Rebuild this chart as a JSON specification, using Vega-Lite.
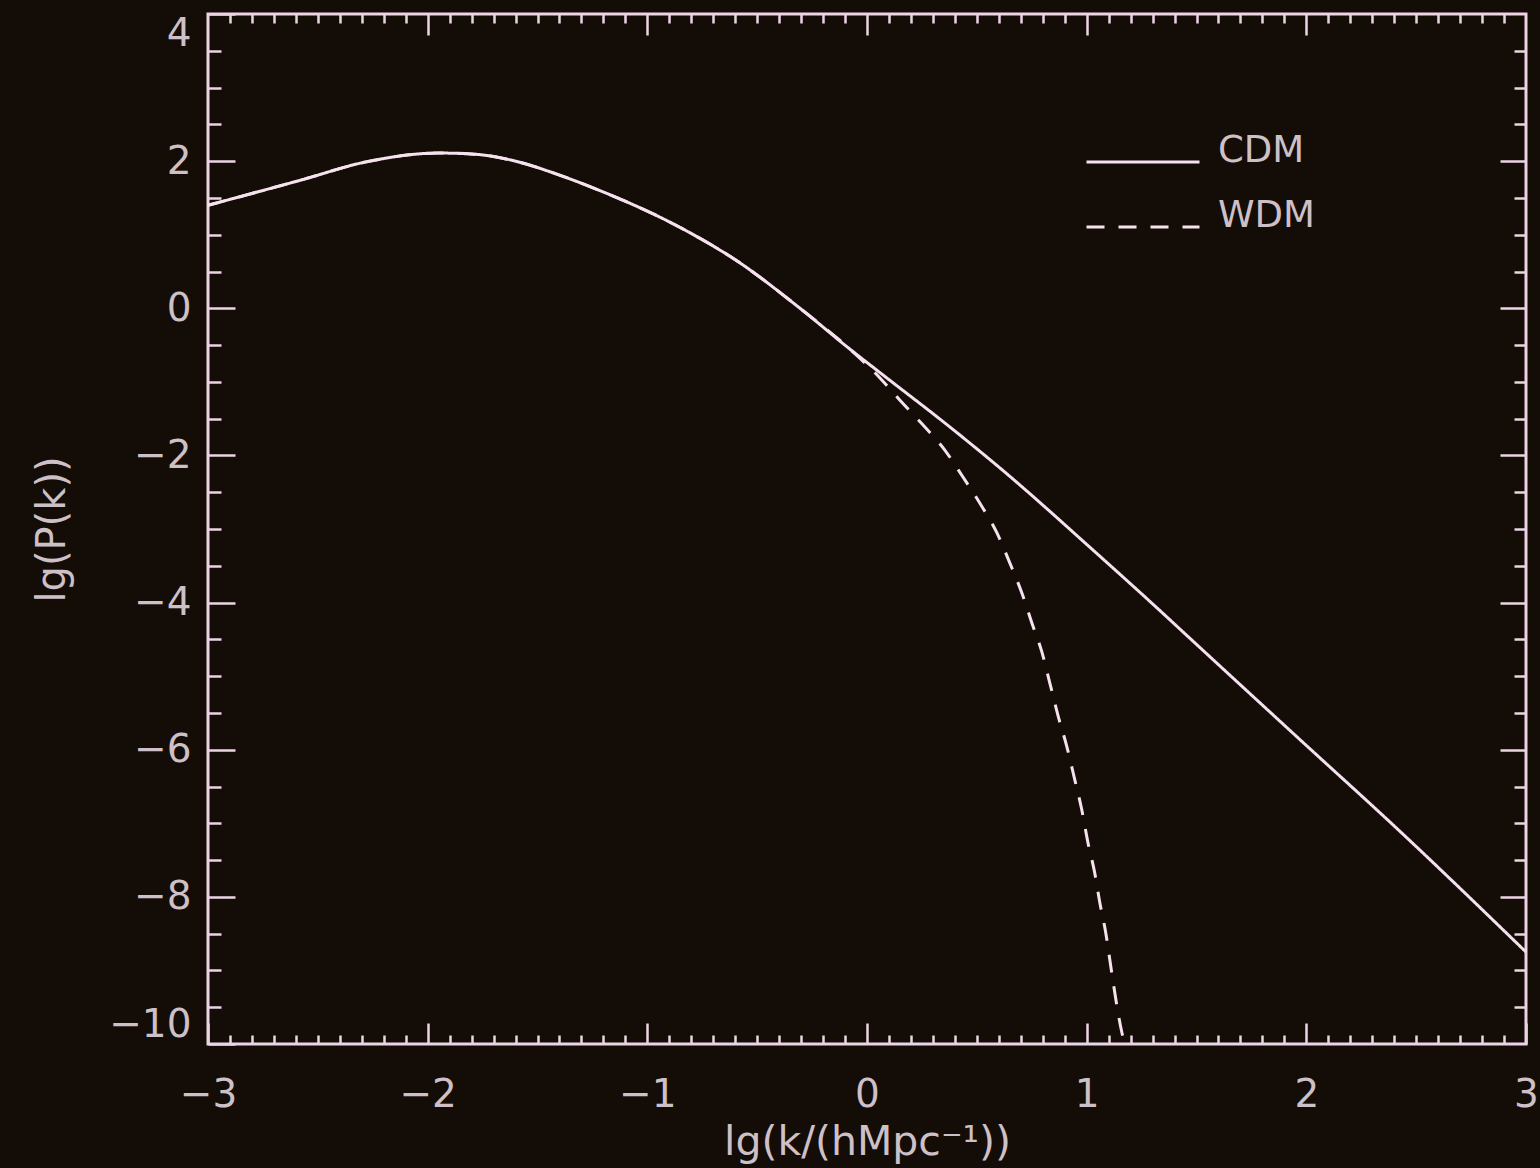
{
  "$schema": "https://vega.github.io/schema/vega-lite/v6.json",
  "width": 1318,
  "height": 1030,
  "autosize": {"type": "none"},
  "padding": {"left": 208, "top": 14, "right": 14, "bottom": 124},
  "background": "#140c06",
  "config": {
    "view": {"stroke": "#ecd4e4", "strokeWidth": 3, "fill": "#140c06"},
    "axis": {
      "domain": false,
      "grid": false,
      "labelFont": "DejaVu Sans",
      "titleFont": "DejaVu Sans",
      "labelColor": "#cdc0c6",
      "titleColor": "#cdc0c6",
      "tickColor": "#ecd4e4",
      "tickWidth": 2.5,
      "labelFontSize": 39,
      "titleFontSize": 40,
      "titleFontWeight": "normal"
    },
    "legend": {
      "labelFont": "DejaVu Sans",
      "labelColor": "#cdc0c6",
      "labelFontSize": 37
    }
  },
  "data": {
    "values": [
      {"model": "CDM", "x": -3.0, "y": 1.40},
      {"model": "CDM", "x": -2.58, "y": 1.74},
      {"model": "CDM", "x": -2.28, "y": 1.99},
      {"model": "CDM", "x": -1.95, "y": 2.11},
      {"model": "CDM", "x": -1.79, "y": 2.095},
      {"model": "CDM", "x": -1.6, "y": 2.0},
      {"model": "CDM", "x": -1.4, "y": 1.81},
      {"model": "CDM", "x": -1.2, "y": 1.58},
      {"model": "CDM", "x": -0.91, "y": 1.19},
      {"model": "CDM", "x": -0.76, "y": 0.95},
      {"model": "CDM", "x": -0.61, "y": 0.68},
      {"model": "CDM", "x": -0.305, "y": 0.0},
      {"model": "CDM", "x": -0.08, "y": -0.55},
      {"model": "CDM", "x": 0.07, "y": -0.90},
      {"model": "CDM", "x": 0.38, "y": -1.62},
      {"model": "CDM", "x": 0.605, "y": -2.17},
      {"model": "CDM", "x": 1.06, "y": -3.37},
      {"model": "CDM", "x": 1.29, "y": -3.99},
      {"model": "CDM", "x": 1.515, "y": -4.61},
      {"model": "CDM", "x": 1.97, "y": -5.86},
      {"model": "CDM", "x": 2.43, "y": -7.12},
      {"model": "CDM", "x": 3.0, "y": -8.75},
      {"model": "WDM", "x": -3.0, "y": 1.40},
      {"model": "WDM", "x": -2.58, "y": 1.74},
      {"model": "WDM", "x": -2.28, "y": 1.99},
      {"model": "WDM", "x": -1.95, "y": 2.11},
      {"model": "WDM", "x": -1.79, "y": 2.095},
      {"model": "WDM", "x": -1.6, "y": 2.0},
      {"model": "WDM", "x": -1.4, "y": 1.81},
      {"model": "WDM", "x": -1.2, "y": 1.58},
      {"model": "WDM", "x": -0.91, "y": 1.19},
      {"model": "WDM", "x": -0.76, "y": 0.95},
      {"model": "WDM", "x": -0.61, "y": 0.68},
      {"model": "WDM", "x": -0.305, "y": 0.0},
      {"model": "WDM", "x": -0.08, "y": -0.55},
      {"model": "WDM", "x": 0.06, "y": -0.95},
      {"model": "WDM", "x": 0.15, "y": -1.25},
      {"model": "WDM", "x": 0.25, "y": -1.57},
      {"model": "WDM", "x": 0.355, "y": -1.93},
      {"model": "WDM", "x": 0.436, "y": -2.29},
      {"model": "WDM", "x": 0.514, "y": -2.65},
      {"model": "WDM", "x": 0.591, "y": -3.05},
      {"model": "WDM", "x": 0.65, "y": -3.46},
      {"model": "WDM", "x": 0.705, "y": -3.87},
      {"model": "WDM", "x": 0.751, "y": -4.28},
      {"model": "WDM", "x": 0.796, "y": -4.67},
      {"model": "WDM", "x": 0.832, "y": -5.09},
      {"model": "WDM", "x": 0.869, "y": -5.53},
      {"model": "WDM", "x": 0.91, "y": -5.96},
      {"model": "WDM", "x": 0.946, "y": -6.41},
      {"model": "WDM", "x": 0.978, "y": -6.82},
      {"model": "WDM", "x": 1.005, "y": -7.25},
      {"model": "WDM", "x": 1.037, "y": -7.68},
      {"model": "WDM", "x": 1.06, "y": -8.08},
      {"model": "WDM", "x": 1.087, "y": -8.49},
      {"model": "WDM", "x": 1.115, "y": -9.05},
      {"model": "WDM", "x": 1.137, "y": -9.47},
      {"model": "WDM", "x": 1.16, "y": -9.84},
      {"model": "WDM", "x": 1.174, "y": -10.0}
    ]
  },
  "resolve": {"axis": {"x": "independent", "y": "independent"}},
  "layer": [
    {
      "mark": {"type": "line", "color": "#f6e2ef", "strokeWidth": 3, "interpolate": "monotone"},
      "encoding": {
        "x": {"field": "x", "type": "quantitative",
          "scale": {"domain": [-3, 3], "nice": false, "zero": false},
          "axis": {"orient": "bottom", "values": [-3, -2, -1, 0, 1, 2, 3], "tickSize": -21, "labelPadding": 52, "labelFlush": false, "title": "lg(k/(hMpc⁻¹))", "titlePadding": 8, "titleFontSize": 41, "format": "d"}},
        "y": {"field": "y", "type": "quantitative",
          "scale": {"domain": [-10, 4], "nice": false, "zero": false},
          "axis": {"orient": "left", "values": [-10, -8, -6, -4, -2, 0, 2, 4], "tickSize": -27, "labelPadding": 44, "labelFlush": true, "labelFlushOffset": 0, "title": "lg(P(k))", "titlePadding": 36, "format": "d"}},
        "strokeDash": {"field": "model", "type": "nominal",
          "scale": {"domain": ["CDM", "WDM"], "range": [[1, 0], [18, 14]]},
          "legend": {"title": null, "orient": "none", "legendX": 877, "legendY": 90, "symbolType": "stroke", "symbolSize": 12769, "symbolStrokeWidth": 3, "symbolStrokeColor": "#f6e2ef", "labelOffset": 17, "rowPadding": -33, "labelBaseline": "alphabetic"}},
        "order": {"field": "x", "type": "quantitative"}
      }
    },
    {
      "mark": {"type": "line", "opacity": 0},
      "encoding": {
        "x": {"field": "x", "type": "quantitative",
          "axis": {"orient": "bottom", "values": [-2.9,-2.8,-2.7,-2.6,-2.5,-2.4,-2.3,-2.2,-2.1,-1.9,-1.8,-1.7,-1.6,-1.5,-1.4,-1.3,-1.2,-1.1,-0.9,-0.8,-0.7,-0.6,-0.5,-0.4,-0.3,-0.2,-0.1,0.1,0.2,0.3,0.4,0.5,0.6,0.7,0.8,0.9,1.1,1.2,1.3,1.4,1.5,1.6,1.7,1.8,1.9,2.1,2.2,2.3,2.4,2.5,2.6,2.7,2.8,2.9], "tickSize": -9, "labels": false, "title": null}},
        "y": {"field": "y", "type": "quantitative",
          "axis": {"orient": "left", "values": [-9.5,-9,-8.5,-7.5,-7,-6.5,-5.5,-5,-4.5,-3.5,-3,-2.5,-1.5,-1,-0.5,0.5,1,1.5,2.5,3,3.5], "tickSize": -13, "labels": false, "title": null}},
        "detail": {"field": "model"}
      }
    },
    {
      "mark": {"type": "line", "opacity": 0},
      "encoding": {
        "x": {"field": "x", "type": "quantitative",
          "axis": {"orient": "top", "values": [-2, -1, 0, 1, 2], "tickSize": -21, "labels": false, "title": null}},
        "y": {"field": "y", "type": "quantitative",
          "axis": {"orient": "right", "values": [-8, -6, -4, -2, 0, 2], "tickSize": -26, "labels": false, "title": null}},
        "detail": {"field": "model"}
      }
    },
    {
      "mark": {"type": "line", "opacity": 0},
      "encoding": {
        "x": {"field": "x", "type": "quantitative",
          "axis": {"orient": "top", "values": [-2.9,-2.8,-2.7,-2.6,-2.5,-2.4,-2.3,-2.2,-2.1,-1.9,-1.8,-1.7,-1.6,-1.5,-1.4,-1.3,-1.2,-1.1,-0.9,-0.8,-0.7,-0.6,-0.5,-0.4,-0.3,-0.2,-0.1,0.1,0.2,0.3,0.4,0.5,0.6,0.7,0.8,0.9,1.1,1.2,1.3,1.4,1.5,1.6,1.7,1.8,1.9,2.1,2.2,2.3,2.4,2.5,2.6,2.7,2.8,2.9], "tickSize": -9, "labels": false, "title": null}},
        "y": {"field": "y", "type": "quantitative",
          "axis": {"orient": "right", "values": [-9.5,-9,-8.5,-7.5,-7,-6.5,-5.5,-5,-4.5,-3.5,-3,-2.5,-1.5,-1,-0.5,0.5,1,1.5,2.5,3,3.5], "tickSize": -12, "labels": false, "title": null}},
        "detail": {"field": "model"}
      }
    }
  ]
}
